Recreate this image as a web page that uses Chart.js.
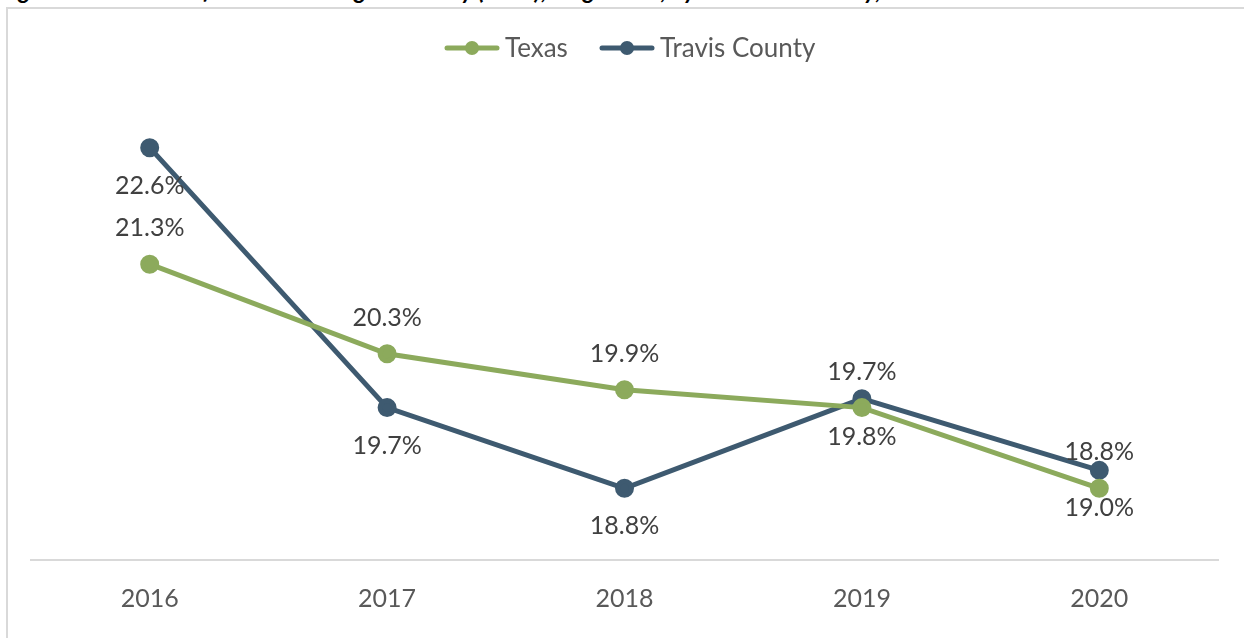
<!DOCTYPE html>
<html>
<head>
<meta charset="utf-8">
<script src="https://cdn.jsdelivr.net/npm/chart.js@4/dist/chart.umd.min.js"></script>
<style>
  html, body { margin: 0; padding: 0; background: #fff; overflow: hidden; }
  #title { position: absolute; left: 0; top: -22px; white-space: nowrap;
    font: italic bold 24px Lato, sans-serif; color: #000; line-height: 24px; }
  #frame { position: absolute; left: 6px; top: 7px; width: 1400px; height: 800px;
    border: 2px solid #d9d9d9; box-sizing: border-box; background: #fff; }
  #wrap { position: absolute; left: 0; top: 0; width: 1244px; height: 638px; }
</style>
</head>
<body>
<div id="title">Figure 13: Percent of Children Living in Poverty (0-17), Single Year, by State and County, 2016-2020</div>
<div id="frame"></div>
<div id="wrap"><canvas id="c"></canvas></div>
<script>
const years = ['2016', '2017', '2018', '2019', '2020'];
const texas = [21.3, 20.3, 19.9, 19.7, 18.8];
const travis = [22.6, 19.7, 18.8, 19.8, 19.0];
const seriesNames = ['Texas', 'Travis County'];
const colors = ['#8caa5c', '#3e5a70'];

const FONT = 'Lato, sans-serif';

// labels: Texas above its points, Travis below
const labelPlugin = {
  id: 'valueLabels',
  afterDatasetsDraw(chart) {
    const ctx = chart.ctx;
    ctx.save();
    ctx.font = '25px ' + FONT;
    ctx.fillStyle = '#404040';
    ctx.textAlign = 'center';
    ctx.textBaseline = 'middle';
    chart.data.datasets.forEach((ds, di) => {
      chart.getDatasetMeta(di).data.forEach((pt, i) => {
        const dy = di === 0 ? -36 : 38;
        ctx.fillText(ds.data[i].toFixed(1) + '%', pt.x, pt.y + dy);
      });
    });
    ctx.restore();
  }
};

// legend with line + dot marker
const legendPlugin = {
  id: 'lineLegend',
  afterDraw(chart) {
    const ctx = chart.ctx;
    const y = 48;
    const starts = [447, 602];
    ctx.save();
    ctx.font = '26px ' + FONT;
    ctx.textBaseline = 'middle';
    seriesNames.forEach((name, i) => {
      const x = starts[i];
      ctx.strokeStyle = colors[i];
      ctx.lineWidth = 5;
      ctx.lineCap = 'round';
      ctx.beginPath(); ctx.moveTo(x, y); ctx.lineTo(x + 50, y); ctx.stroke();
      ctx.fillStyle = colors[i];
      ctx.beginPath(); ctx.arc(x + 25, y, 7, 0, Math.PI * 2); ctx.fill();
      ctx.fillStyle = '#595959';
      ctx.fillText(name, x + 58, y + 1);
    });
    ctx.restore();
  }
};

new Chart(document.getElementById('c'), {
  type: 'line',
  data: {
    labels: years,
    datasets: [texas, travis].map((d, i) => ({
      label: seriesNames[i],
      data: d,
      borderColor: colors[i],
      backgroundColor: colors[i],
      borderWidth: 5,
      pointRadius: 7,
      pointHoverRadius: 7,
      tension: 0,
      fill: false
    }))
  },
  options: {
    responsive: true,
    maintainAspectRatio: false,
    animation: false,
    layout: { padding: { top: 67, left: 31, right: 26, bottom: 0 } },
    plugins: { legend: { display: false }, tooltip: { enabled: false } },
    scales: {
      x: {
        offset: true,
        grid: { display: false, drawTicks: false },
        border: { display: true, color: '#d9d9d9', width: 2 },
        ticks: { color: '#595959', font: { family: FONT, size: 25 }, padding: 24 }
      },
      y: { display: false, min: 18, max: 23.5 }
    }
  },
  plugins: [labelPlugin, legendPlugin]
});
</script>
</body>
</html>
